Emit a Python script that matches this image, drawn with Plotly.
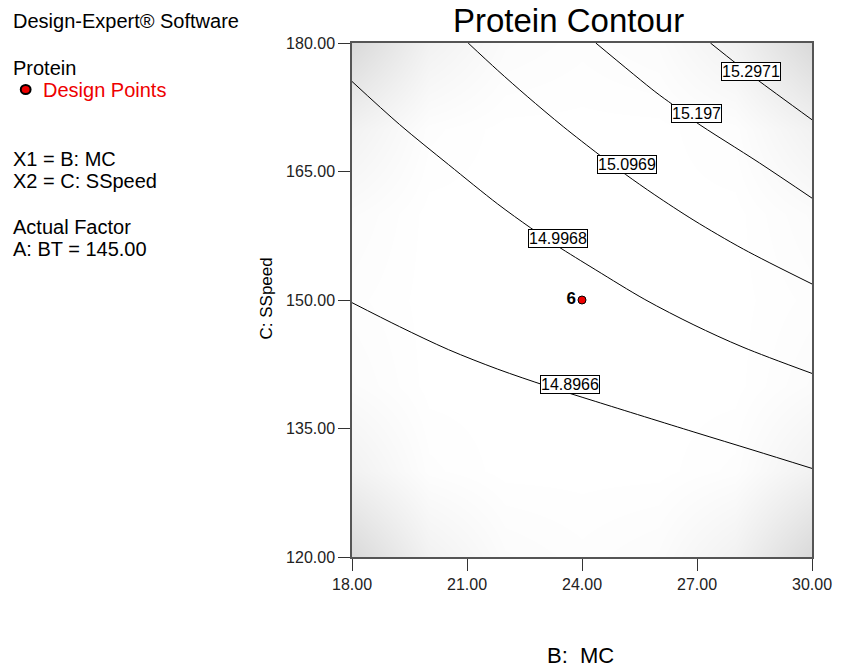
import plotly.graph_objects as go

# ---- data ---------------------------------------------------------------
# Contour levels of the Protein response (B: MC on x, C: SSpeed on y)
levels = ["14.8966", "14.9968", "15.0969", "15.197", "15.2971"]

c1_x = [18.00, 19.24, 20.52, 21.80, 23.08, 24.36, 26.92, 28.46, 30.00]
c1_y = [149.69, 146.89, 144.20, 141.93, 139.96, 138.15, 134.59, 132.48, 130.34]

c2_x = [18.00, 19.24, 20.52, 21.80, 22.65, 23.34, 24.36, 25.64, 26.92, 28.20, 30.00]
c2_y = [175.51, 170.49, 165.80, 161.21, 158.45, 156.35, 153.51, 150.06, 147.09, 144.49, 141.43]

c3_x = [21.03, 21.80, 22.57, 23.51, 24.45, 25.13, 25.90, 26.92, 28.21, 30.00]
c3_y = [180.00, 176.81, 173.77, 170.24, 166.95, 164.68, 162.27, 159.30, 155.94, 151.87]

c4_x = [24.36, 25.90, 26.37, 26.92, 28.63, 30.00]
c4_y = [180.00, 174.34, 172.79, 170.92, 166.00, 161.89]

c5_x = [27.35, 28.03, 28.55, 30.00]
c5_y = [180.00, 177.58, 175.79, 171.04]

# label anchor points on each contour
label_x = [23.68, 23.38, 25.17, 26.98, 28.40]
label_y = [140.16, 157.22, 165.87, 171.80, 176.62]

# design point (centre point, 6 replicates)
pt_x = [24.00]
pt_y = [150.00]
pt_label = ["6"]

# prediction-error shading (0 = white, 1 = darkest grey)
shade_x = [18, 20, 22, 24, 26, 28, 30]
shade_y = [120, 130, 140, 150, 160, 170, 180]
shade_z = [
    [1.00, 0.35, 0.10, 0.05, 0.10, 0.35, 1.00],
    [0.35, 0.05, 0.00, 0.00, 0.00, 0.05, 0.35],
    [0.10, 0.00, 0.00, 0.00, 0.00, 0.00, 0.10],
    [0.05, 0.00, 0.00, 0.00, 0.00, 0.00, 0.05],
    [0.10, 0.00, 0.00, 0.00, 0.00, 0.00, 0.10],
    [0.35, 0.05, 0.00, 0.00, 0.00, 0.05, 0.35],
    [1.00, 0.35, 0.10, 0.05, 0.10, 0.35, 1.00],
]

x_ticks = [18, 21, 24, 27, 30]
y_ticks = [120, 135, 150, 165, 180]
x_ticktext = ["18.00", "21.00", "24.00", "27.00", "30.00"]
y_ticktext = ["120.00", "135.00", "150.00", "165.00", "180.00"]

# ---- layout geometry ----------------------------------------------------
W, H = 844, 669
L, R, T, B = 352, 820, 43, 557
FONT = "Arial, Liberation Sans, sans-serif"


def px(xp, yp):
    """Convert page pixel position to paper coordinates."""
    return (xp - L) / (R - L), (B - yp) / (B - T)


fig = go.Figure()

fig.add_trace(go.Heatmap(
    x=shade_x, y=shade_y, z=shade_z,
    colorscale=[[0, "#ffffff"], [1, "#d9d9d9"]],
    zmin=0, zmax=1, zsmooth="best", showscale=False, hoverinfo="skip",
))

for cx, cy in [(c1_x, c1_y), (c2_x, c2_y), (c3_x, c3_y), (c4_x, c4_y), (c5_x, c5_y)]:
    fig.add_trace(go.Scatter(
        x=cx, y=cy, mode="lines",
        line=dict(color="black", width=1, shape="spline", smoothing=0.9),
        hoverinfo="skip", showlegend=False,
    ))

fig.add_trace(go.Scatter(
    x=pt_x, y=pt_y, mode="markers+text",
    text=["<b>%s</b>" % t for t in pt_label], textposition="middle left",
    textfont=dict(family=FONT, size=17, color="black"),
    marker=dict(color="#ee0000", size=8, line=dict(color="black", width=1)),
    showlegend=False,
))

annotations = []
for lv, lx, ly in zip(levels, label_x, label_y):
    annotations.append(dict(
        x=lx, y=ly, xref="x", yref="y", text=lv, showarrow=False,
        font=dict(family=FONT, size=16, color="black"),
        bgcolor="white", bordercolor="black", borderwidth=1, borderpad=0,
    ))


def page_text(text, xp, yp, size, color="black", xanchor="left", angle=0):
    ax, ay = px(xp, yp)
    annotations.append(dict(
        x=ax, y=ay, xref="paper", yref="paper", text=text, showarrow=False,
        xanchor=xanchor, yanchor="middle", textangle=angle,
        font=dict(family=FONT, size=size, color=color),
    ))


page_text("Protein Contour", 572, 21, 33, xanchor="center")
page_text("B:  MC", 584, 655, 22, xanchor="center")
page_text("C: SSpeed", 264, 299, 17, xanchor="center", angle=-90)

page_text("Design-Expert® Software", 5, 21, 20)
page_text("Protein", 5, 68, 20)
page_text("Design Points", 36, 90, 20, color="#ee0000")
page_text("X1 = B: MC", 5, 159, 20)
page_text("X2 = C: SSpeed", 5, 181, 20)
page_text("Actual Factor", 5, 227, 20)
page_text("A: BT = 145.00", 5, 249, 20)

# legend marker for design points
mx0, my0 = px(15, 85)
mx1, my1 = px(25, 94)
shapes = [dict(type="circle", xref="paper", yref="paper",
               x0=mx0, x1=mx1, y0=my1, y1=my0,
               fillcolor="#ee0000", line=dict(color="black", width=2))]

axis_common = dict(
    ticks="outside", ticklen=12, tickwidth=1, tickcolor="#333",
    showline=True, linecolor="#555", linewidth=1.5, mirror=True,
    showgrid=False, zeroline=False,
    tickfont=dict(family=FONT, size=16, color="#222"),
)

fig.update_layout(
    width=W, height=H, autosize=False,
    margin=dict(l=L, r=W - R, t=T, b=H - B),
    paper_bgcolor="white", plot_bgcolor="white",
    showlegend=False,
    xaxis=dict(range=[18, 30], tickvals=x_ticks, ticktext=x_ticktext, **axis_common),
    yaxis=dict(range=[120, 180], tickvals=y_ticks, ticktext=y_ticktext, **axis_common),
    annotations=annotations,
    shapes=shapes,
)

fig.write_html("out.html")
